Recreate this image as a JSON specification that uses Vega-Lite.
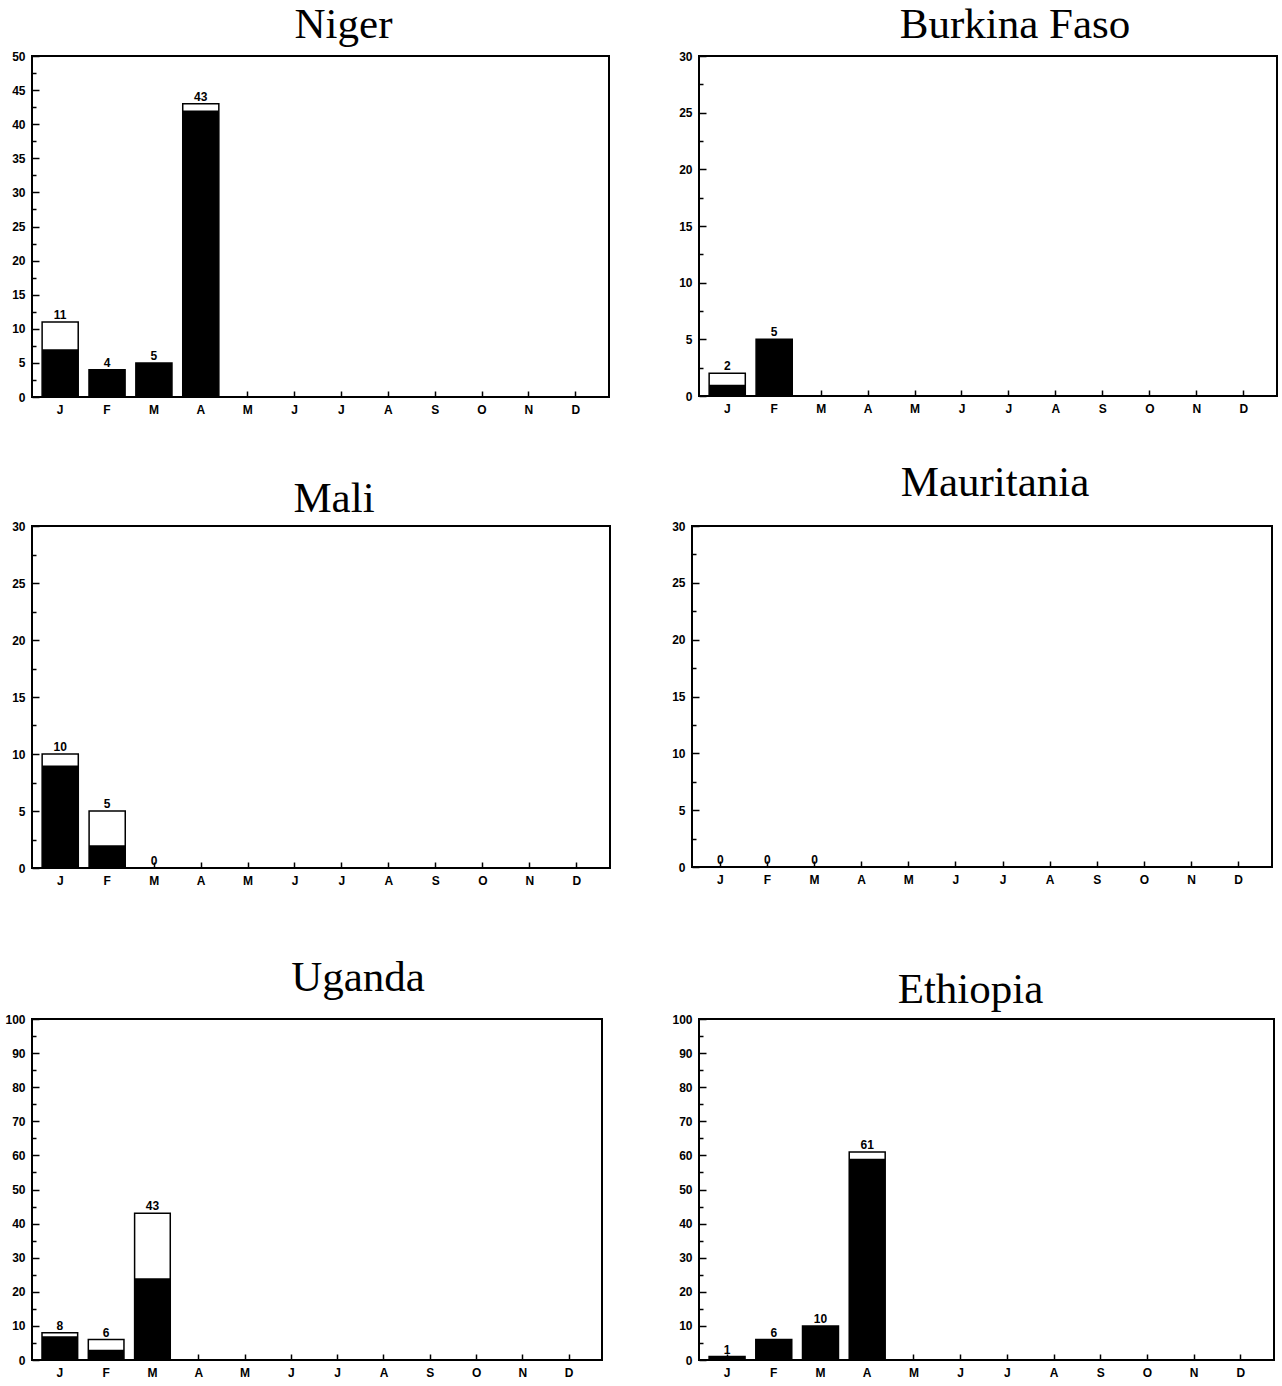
{
  "$schema": "https://vega.github.io/schema/vega-lite/v6.json",
  "padding": {"left": 3, "top": 3, "right": 2, "bottom": 2},
  "background": "white",
  "config": {
    "view": {"stroke": "black", "strokeWidth": 2},
    "font": "Liberation Sans",
    "axis": {"labelFont": "Liberation Sans", "labelFontSize": 12, "labelFontWeight": "bold", "labelColor": "black", "tickColor": "black", "domain": false, "grid": false, "title": null, "tickWidth": 1.5, "labelOverlap": false},
    "title": {"font": "Liberation Serif", "fontSize": 43, "fontWeight": "normal", "color": "black", "frame": "group", "anchor": "middle"},
    "bar": {"stroke": "black", "strokeWidth": 1.5},
    "text": {"font": "Liberation Sans", "fontSize": 12, "fontWeight": "bold", "dy": -7}
  },
  "datasets": {
    "d": [
      {"country": "Niger", "month": 1, "total": 11, "black": 7},
      {"country": "Niger", "month": 2, "total": 4, "black": 4},
      {"country": "Niger", "month": 3, "total": 5, "black": 5},
      {"country": "Niger", "month": 4, "total": 43, "black": 42},
      {"country": "Burkina Faso", "month": 1, "total": 2, "black": 1},
      {"country": "Burkina Faso", "month": 2, "total": 5, "black": 5},
      {"country": "Mali", "month": 1, "total": 10, "black": 9},
      {"country": "Mali", "month": 2, "total": 5, "black": 2},
      {"country": "Mali", "month": 3, "total": 0, "black": 0},
      {"country": "Mauritania", "month": 1, "total": 0, "black": 0},
      {"country": "Mauritania", "month": 2, "total": 0, "black": 0},
      {"country": "Mauritania", "month": 3, "total": 0, "black": 0},
      {"country": "Uganda", "month": 1, "total": 8, "black": 7},
      {"country": "Uganda", "month": 2, "total": 6, "black": 3},
      {"country": "Uganda", "month": 3, "total": 43, "black": 24},
      {"country": "Ethiopia", "month": 1, "total": 1, "black": 1},
      {"country": "Ethiopia", "month": 2, "total": 6, "black": 6},
      {"country": "Ethiopia", "month": 3, "total": 10, "black": 10},
      {"country": "Ethiopia", "month": 4, "total": 61, "black": 59}
    ]
  },
  "spacing": 45,
  "vconcat": [
    {
      "bounds": "flush",
      "spacing": 90,
      "hconcat": [
        {
          "width": 577, "height": 341,
          "title": {"text": "Niger", "dx": 23, "offset": 3},
          "data": {"name": "d"},
          "transform": [{"filter": "datum.country === 'Niger'"}],
          "encoding": {
            "x": {"field": "month", "type": "ordinal", "scale": {"domain": [1,2,3,4,5,6,7,8,9,10,11,12], "paddingInner": 0.23, "paddingOuter": 0.27, "align": 0.4}, "axis": {"labelExpr": "['J','F','M','A','M','J','J','A','S','O','N','D'][datum.value-1]", "labelAngle": 0, "tickSize": -6, "labelPadding": 13}}
          },
          "resolve": {"axis": {"y": "independent"}},
          "layer": [
            {"mark": {"type": "bar", "fill": "white"}, "encoding": {"y": {"field": "total", "type": "quantitative", "scale": {"domain": [0, 50]}, "axis": {"orient": "left", "values": [0,5,10,15,20,25,30,35,40,45,50], "tickSize": -7, "labelPadding": 14}}}},
            {"mark": {"type": "bar", "fill": "black", "strokeWidth": 0}, "encoding": {"y": {"field": "black", "type": "quantitative", "axis": null}}},
            {"mark": {"type": "text"}, "encoding": {"y": {"field": "total", "type": "quantitative", "axis": {"orient": "left", "values": [2.5,7.5,12.5,17.5,22.5,27.5,32.5,37.5,42.5,47.5], "labels": false, "tickSize": -4}}, "text": {"field": "total"}}}
          ]
        },
        {
          "width": 578, "height": 340,
          "title": {"text": "Burkina Faso", "dx": 27, "offset": 3},
          "data": {"name": "d"},
          "transform": [{"filter": "datum.country === 'Burkina Faso'"}],
          "encoding": {
            "x": {"field": "month", "type": "ordinal", "scale": {"domain": [1,2,3,4,5,6,7,8,9,10,11,12], "paddingInner": 0.23, "paddingOuter": 0.27, "align": 0.4}, "axis": {"labelExpr": "['J','F','M','A','M','J','J','A','S','O','N','D'][datum.value-1]", "labelAngle": 0, "tickSize": -6, "labelPadding": 13}}
          },
          "resolve": {"axis": {"y": "independent"}},
          "layer": [
            {"mark": {"type": "bar", "fill": "white"}, "encoding": {"y": {"field": "total", "type": "quantitative", "scale": {"domain": [0, 30]}, "axis": {"orient": "left", "values": [0,5,10,15,20,25,30], "tickSize": -7, "labelPadding": 14}}}},
            {"mark": {"type": "bar", "fill": "black", "strokeWidth": 0}, "encoding": {"y": {"field": "black", "type": "quantitative", "axis": null}}},
            {"mark": {"type": "text"}, "encoding": {"y": {"field": "total", "type": "quantitative", "axis": {"orient": "left", "values": [2.5,7.5,12.5,17.5,22.5,27.5], "labels": false, "tickSize": -4}}, "text": {"field": "total"}}}
          ]
        }
      ]
    },
    {
      "bounds": "flush",
      "spacing": 82,
      "hconcat": [
        {
          "width": 578, "height": 342,
          "title": {"text": "Mali", "dx": 13, "offset": -1},
          "data": {"name": "d"},
          "transform": [{"filter": "datum.country === 'Mali'"}],
          "encoding": {
            "x": {"field": "month", "type": "ordinal", "scale": {"domain": [1,2,3,4,5,6,7,8,9,10,11,12], "paddingInner": 0.23, "paddingOuter": 0.27, "align": 0.4}, "axis": {"labelExpr": "['J','F','M','A','M','J','J','A','S','O','N','D'][datum.value-1]", "labelAngle": 0, "tickSize": -6, "labelPadding": 13, "title": "\u00a0", "titleFontSize": 14, "titlePadding": 10}}
          },
          "resolve": {"axis": {"y": "independent"}},
          "layer": [
            {"mark": {"type": "bar", "fill": "white"}, "encoding": {"y": {"field": "total", "type": "quantitative", "scale": {"domain": [0, 30]}, "axis": {"orient": "left", "values": [0,5,10,15,20,25,30], "tickSize": -7, "labelPadding": 14}}}},
            {"mark": {"type": "bar", "fill": "black", "strokeWidth": 0}, "encoding": {"y": {"field": "black", "type": "quantitative", "axis": null}}},
            {"mark": {"type": "text"}, "encoding": {"y": {"field": "total", "type": "quantitative", "axis": {"orient": "left", "values": [2.5,7.5,12.5,17.5,22.5,27.5], "labels": false, "tickSize": -4}}, "text": {"field": "total"}}}
          ]
        },
        {
          "width": 580, "height": 341,
          "title": {"text": "Mauritania", "dx": 13, "offset": 15},
          "data": {"name": "d"},
          "transform": [{"filter": "datum.country === 'Mauritania'"}],
          "encoding": {
            "x": {"field": "month", "type": "ordinal", "scale": {"domain": [1,2,3,4,5,6,7,8,9,10,11,12], "paddingInner": 0.23, "paddingOuter": 0.27, "align": 0.4}, "axis": {"labelExpr": "['J','F','M','A','M','J','J','A','S','O','N','D'][datum.value-1]", "labelAngle": 0, "tickSize": -6, "labelPadding": 13}}
          },
          "resolve": {"axis": {"y": "independent"}},
          "layer": [
            {"mark": {"type": "bar", "fill": "white"}, "encoding": {"y": {"field": "total", "type": "quantitative", "scale": {"domain": [0, 30]}, "axis": {"orient": "left", "values": [0,5,10,15,20,25,30], "tickSize": -7, "labelPadding": 14}}}},
            {"mark": {"type": "bar", "fill": "black", "strokeWidth": 0}, "encoding": {"y": {"field": "black", "type": "quantitative", "axis": null}}},
            {"mark": {"type": "text"}, "encoding": {"y": {"field": "total", "type": "quantitative", "axis": {"orient": "left", "values": [2.5,7.5,12.5,17.5,22.5,27.5], "labels": false, "tickSize": -4}}, "text": {"field": "total"}}}
          ]
        }
      ]
    },
    {
      "bounds": "flush",
      "spacing": 97,
      "hconcat": [
        {
          "width": 570, "height": 341,
          "title": {"text": "Uganda", "dx": 41, "offset": 13},
          "data": {"name": "d"},
          "transform": [{"filter": "datum.country === 'Uganda'"}],
          "encoding": {
            "x": {"field": "month", "type": "ordinal", "scale": {"domain": [1,2,3,4,5,6,7,8,9,10,11,12], "paddingInner": 0.23, "paddingOuter": 0.27, "align": 0.4}, "axis": {"labelExpr": "['J','F','M','A','M','J','J','A','S','O','N','D'][datum.value-1]", "labelAngle": 0, "tickSize": -6, "labelPadding": 13}}
          },
          "resolve": {"axis": {"y": "independent"}},
          "layer": [
            {"mark": {"type": "bar", "fill": "white"}, "encoding": {"y": {"field": "total", "type": "quantitative", "scale": {"domain": [0, 100]}, "axis": {"orient": "left", "values": [0,10,20,30,40,50,60,70,80,90,100], "tickSize": -7, "labelPadding": 14}}}},
            {"mark": {"type": "bar", "fill": "black", "strokeWidth": 0}, "encoding": {"y": {"field": "black", "type": "quantitative", "axis": null}}},
            {"mark": {"type": "text"}, "encoding": {"y": {"field": "total", "type": "quantitative", "axis": {"orient": "left", "values": [5,15,25,35,45,55,65,75,85,95], "labels": false, "tickSize": -4}}, "text": {"field": "total"}}}
          ]
        },
        {
          "width": 575, "height": 341,
          "title": {"text": "Ethiopia", "dx": -16, "offset": 1},
          "data": {"name": "d"},
          "transform": [{"filter": "datum.country === 'Ethiopia'"}],
          "encoding": {
            "x": {"field": "month", "type": "ordinal", "scale": {"domain": [1,2,3,4,5,6,7,8,9,10,11,12], "paddingInner": 0.23, "paddingOuter": 0.27, "align": 0.4}, "axis": {"labelExpr": "['J','F','M','A','M','J','J','A','S','O','N','D'][datum.value-1]", "labelAngle": 0, "tickSize": -6, "labelPadding": 13}}
          },
          "resolve": {"axis": {"y": "independent"}},
          "layer": [
            {"mark": {"type": "bar", "fill": "white"}, "encoding": {"y": {"field": "total", "type": "quantitative", "scale": {"domain": [0, 100]}, "axis": {"orient": "left", "values": [0,10,20,30,40,50,60,70,80,90,100], "tickSize": -7, "labelPadding": 14}}}},
            {"mark": {"type": "bar", "fill": "black", "strokeWidth": 0}, "encoding": {"y": {"field": "black", "type": "quantitative", "axis": null}}},
            {"mark": {"type": "text"}, "encoding": {"y": {"field": "total", "type": "quantitative", "axis": {"orient": "left", "values": [5,15,25,35,45,55,65,75,85,95], "labels": false, "tickSize": -4}}, "text": {"field": "total"}}}
          ]
        }
      ]
    }
  ]
}
